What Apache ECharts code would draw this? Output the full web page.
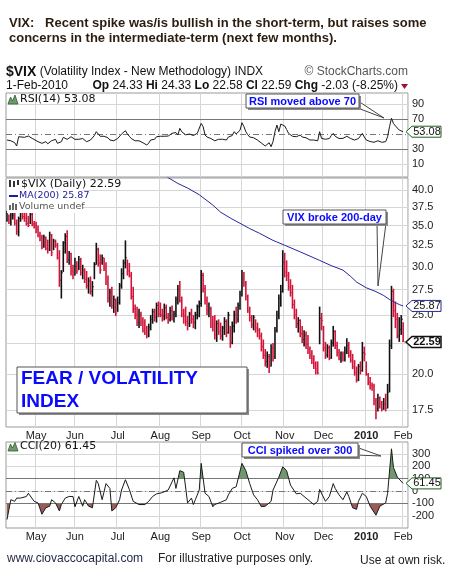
<!DOCTYPE html>
<html>
<head>
<meta charset="utf-8">
<script src="https://cdn.jsdelivr.net/npm/echarts@6/dist/echarts.min.js"></script>
<style>
  html, body { margin: 0; padding: 0; background: #fff; }
  #chart { width: 452px; height: 580px; }
</style>
</head>
<body>
<div id="chart"></div>
<script>
// trading calendar, Apr 9 2009 .. Feb 3 2010 (last two days left empty as right margin)
const holidays = ['2009-04-10', '2009-05-25', '2009-07-03', '2009-09-07',
  '2009-11-26', '2009-12-25', '2010-01-01', '2010-01-18'];
const monthNames = ['Jan', 'Feb', 'Mar', 'Apr', 'May', 'Jun', 'Jul', 'Aug', 'Sep', 'Oct', 'Nov', 'Dec'];

// daily $VIX bars
const highs = [
  37.0, 36.5, 36.8, 37.2, 37.0, 35.8, 36.2, 37.2, 37.5, 37.0,
  36.8, 36.3, 36.9, 36.7, 35.6, 35.5, 35.0, 34.2, 33.8, 33.8,
  33.6, 33.2, 34.2, 33.9, 33.3, 33.2, 32.8, 31.9, 29.6, 33.0,
  34.0, 34.4, 31.8, 31.6, 30.2, 31.0, 30.6, 31.2, 31.0, 30.2,
  29.8, 29.5, 28.8, 28.9, 28.4, 30.5, 32.8, 32.2, 31.4, 31.4,
  31.0, 30.5, 29.0, 27.6, 27.8, 26.9, 26.6, 26.8, 28.2, 29.8,
  30.8, 33.1, 30.8, 30.4, 29.4, 27.8, 26.0, 25.8, 25.6, 25.3,
  24.8, 24.6, 24.0, 24.2, 25.0, 25.6, 25.6, 26.2, 26.3, 26.2,
  25.6, 26.1, 26.0, 25.2, 25.8, 25.9, 25.4, 26.8, 28.0, 28.4,
  26.8, 25.6, 25.8, 24.9, 25.3, 25.6, 25.0, 25.3, 26.0, 26.4,
  29.6, 29.3, 28.0, 26.8, 26.2, 25.8, 24.9, 25.0, 24.5, 24.6,
  24.3, 24.0, 24.8, 24.6, 25.3, 24.0, 24.4, 25.4, 25.8, 26.2,
  27.4, 29.6, 29.4, 28.4, 27.0, 25.8, 25.0, 25.0, 24.6, 24.3,
  23.8, 23.4, 22.8, 22.0, 21.8, 21.6, 22.4, 22.5, 23.9, 25.4,
  27.0, 28.0, 31.9, 31.6, 30.7, 29.4, 28.6, 28.0, 26.5, 25.6,
  24.8, 24.6, 24.0, 23.6, 23.5, 23.2, 22.2, 21.9, 21.5, 21.0,
  21.0, 25.8, 25.2, 24.0, 22.6, 22.4, 22.3, 22.8, 24.0, 23.6,
  22.6, 22.0, 21.8, 21.8, 22.2, 22.9, 22.6, 21.9, 21.6, 21.1,
  20.6, 20.8, 21.0, 22.6, 22.2, 21.0, 20.1, 19.8, 19.4, 19.3,
  18.3, 18.6, 18.4, 18.1, 18.3, 18.6, 19.3, 22.8, 27.9, 27.6,
  26.3, 25.2, 24.8, 25.0, 24.33
];
const lows = [
  35.5, 35.2, 35.0, 35.8, 35.0, 33.8, 33.6, 35.5, 35.8, 35.5,
  35.0, 34.8, 35.2, 34.9, 34.6, 34.0, 33.5, 33.0, 32.0, 32.2,
  31.9, 31.5, 31.8, 31.2, 31.9, 32.2, 30.8, 27.8, 26.6, 29.4,
  31.5, 30.4, 30.2, 29.0, 28.6, 29.0, 29.2, 29.6, 29.0, 28.6,
  28.2, 27.6, 27.1, 27.0, 26.8, 28.6, 30.2, 30.0, 29.2, 30.2,
  29.5, 28.0, 26.2, 25.8, 25.6, 25.2, 24.9, 25.3, 26.0, 27.6,
  28.6, 29.8, 29.0, 28.8, 26.5, 25.2, 24.6, 24.0, 23.8, 24.0,
  23.4, 23.2, 22.9, 23.0, 23.6, 24.2, 24.4, 24.3, 24.8, 24.8,
  24.4, 24.5, 24.6, 24.2, 24.4, 24.5, 24.3, 24.8, 26.0, 26.2,
  24.8, 24.2, 24.0, 23.6, 23.9, 24.2, 23.8, 23.7, 24.6, 24.8,
  25.8, 27.2, 26.0, 25.0, 24.8, 23.8, 23.5, 22.8, 22.6, 23.2,
  22.8, 22.7, 23.2, 23.0, 23.3, 22.1, 22.4, 23.4, 24.2, 24.3,
  25.5, 26.8, 27.8, 26.4, 25.2, 24.4, 23.8, 23.6, 23.4, 23.0,
  22.8, 21.8, 21.2, 20.6, 20.5, 20.1, 20.6, 21.0, 21.2, 23.4,
  24.6, 25.8, 27.2, 28.8, 28.4, 27.4, 26.8, 25.6, 24.6, 23.8,
  23.4, 23.0, 22.5, 22.2, 22.0, 21.6, 21.2, 20.8, 20.4, 20.0,
  20.0, 22.4, 23.6, 21.8, 21.2, 21.3, 21.1, 21.2, 22.2, 22.0,
  21.4, 21.1, 20.9, 21.0, 21.0, 21.6, 21.3, 20.9, 20.4, 19.9,
  19.4, 19.5, 20.0, 20.2, 21.0, 19.9, 19.2, 18.9, 18.8, 17.8,
  16.9, 17.4, 17.6, 17.4, 17.5, 17.4, 17.6, 18.7, 22.0, 24.8,
  23.8, 22.9, 22.6, 23.2, 22.58
];
const closes = [
  35.8, 35.4, 36.3, 36.4, 35.3, 34.2, 35.9, 36.8, 36.2, 36.0,
  35.3, 35.0, 36.5, 35.2, 35.0, 34.5, 33.7, 33.4, 32.3, 33.5,
  32.1, 32.0, 33.8, 31.6, 33.0, 32.5, 31.0, 28.5, 29.3, 32.8,
  33.6, 30.8, 31.5, 29.5, 29.0, 30.0, 29.5, 30.8, 29.3, 29.6,
  28.6, 27.9, 28.4, 27.3, 27.8, 30.2, 32.0, 30.4, 29.6, 31.0,
  29.8, 28.3, 26.6, 27.2, 25.9, 26.5, 25.2, 26.2, 27.9, 29.2,
  30.4, 31.0, 29.5, 29.0, 26.8, 25.6, 25.0, 24.3, 25.0, 24.3,
  23.6, 23.4, 23.1, 23.9, 24.6, 25.3, 24.8, 25.9, 25.1, 25.0,
  24.9, 25.7, 24.8, 24.6, 25.4, 24.9, 25.1, 26.5, 27.6, 26.4,
  25.1, 24.9, 24.4, 24.2, 25.1, 24.6, 24.3, 25.0, 25.8, 26.1,
  29.0, 27.6, 26.4, 25.4, 25.6, 24.2, 24.0, 23.2, 24.2, 23.5,
  23.1, 23.8, 24.4, 23.4, 25.0, 22.5, 24.0, 25.0, 24.6, 25.9,
  27.0, 28.7, 28.2, 26.8, 25.4, 24.8, 24.1, 24.8, 23.8, 23.6,
  23.1, 22.2, 21.5, 21.0, 21.4, 20.6, 22.1, 21.4, 23.6, 25.0,
  26.6, 27.3, 30.5, 29.4, 29.0, 27.8, 27.2, 26.0, 25.0, 24.2,
  24.5, 23.3, 22.8, 23.2, 22.4, 22.0, 21.5, 21.2, 20.8, 20.4,
  20.1, 24.7, 24.5, 22.1, 21.5, 22.1, 21.3, 22.5, 23.5, 22.3,
  21.7, 21.3, 21.6, 21.2, 21.9, 22.3, 21.5, 21.1, 20.6, 20.1,
  19.6, 20.6, 20.3, 21.7, 21.6, 20.0, 19.4, 19.2, 19.1, 18.1,
  17.6, 18.3, 17.9, 17.6, 17.9, 17.6, 18.7, 22.3, 27.3, 25.4,
  24.6, 23.1, 23.7, 24.6, 22.59
];

// MA(200), [day index, value]
const maPoints = [
  [80, 42.6], [83, 41.9], [88, 41.0], [93, 40.3], [99, 39.3], [106, 37.8], [110, 36.8],
  [115, 36.0], [120, 35.3], [125, 34.6], [130, 34.0], [137, 33.1], [144, 32.4], [151, 31.7],
  [156, 31.2], [161, 30.7], [167, 30.1], [173, 29.6], [177, 28.9], [180, 28.3], [185, 27.7],
  [190, 27.3], [194, 26.9], [197, 26.5], [200, 26.2], [202, 26.0], [204, 25.87]
];

// RSI(14), [day index, value]
const rsiPoints = [
  [0, 42], [1, 39.8], [2, 41], [3, 40], [4, 38.4], [5, 34], [6, 46.4], [7, 45], [9, 45.6], [10, 44],
  [11, 47.3], [13, 44.2], [14, 42], [16, 39.8], [18, 37.6], [19, 40], [20, 39.8], [21, 37], [22, 38.4],
  [23, 41.1], [24, 40], [25, 42.9], [26, 37.6], [27, 40], [28, 39.8], [29, 45.6], [30, 44], [31, 42.9],
  [32, 44], [33, 46.4], [34, 44], [35, 42.9], [36, 44.2], [37, 43], [38, 45.6], [39, 44], [40, 42.9],
  [41, 39.8], [42, 41], [43, 42], [44, 41], [45, 48], [46, 53.1], [47, 50], [48, 47], [49, 45.6],
  [50, 47], [51, 49.6], [52, 45], [53, 42], [54, 39.8], [55, 41], [56, 42], [57, 44], [58, 46],
  [59, 50], [60, 52], [61, 54.4], [62, 50], [63, 47], [64, 44], [65, 42], [66, 41], [67, 40], [68, 41],
  [69, 39.5], [70, 38.4], [71, 37], [72, 35.3], [73, 38], [74, 42], [75, 44], [76, 43], [77, 46.4],
  [78, 45], [79, 47], [80, 48.7], [81, 47], [82, 46], [83, 47.3], [84, 48], [85, 50.9], [86, 49],
  [87, 52], [88, 48.7], [89, 57.6], [90, 53], [91, 50.9], [92, 49], [93, 48], [94, 50], [95, 48.7],
  [96, 48], [97, 49], [98, 50.9], [99, 52], [100, 64.2], [101, 59.8], [102, 48.7], [103, 46],
  [104, 47], [105, 44], [106, 43], [107, 41], [108, 42], [109, 43], [110, 41], [111, 43], [112, 44],
  [113, 42], [114, 46], [115, 44], [116, 48], [117, 53.1], [118, 50], [119, 50.9], [120, 55],
  [121, 65.1], [122, 60], [123, 53.1], [124, 49], [125, 46], [126, 44], [127, 45], [128, 42.9],
  [129, 42], [130, 40], [131, 38], [132, 36], [133, 34], [134, 36], [135, 38.4], [136, 33.1], [137, 40],
  [138, 53.1], [139, 62], [140, 53.1], [141, 63.3], [142, 64], [143, 60.7], [144, 56], [145, 50.9],
  [146, 49], [147, 47], [148, 46], [149, 46.4], [150, 48], [151, 48.7], [152, 46], [153, 47], [154, 45],
  [155, 44], [156, 42], [157, 43], [158, 42], [159, 42.9], [160, 41], [161, 53.1], [162, 44.2],
  [163, 42], [164, 43], [165, 45], [166, 44], [167, 48], [168, 50.9], [169, 47], [170, 45], [171, 44],
  [172, 46], [173, 44.2], [174, 46], [175, 47], [176, 45], [177, 44], [178, 43], [179, 42], [180, 41],
  [181, 44], [182, 45], [183, 50.9], [184, 46], [185, 42], [186, 41], [187, 40], [188, 41], [189, 39],
  [190, 39.8], [191, 41], [192, 40], [193, 39], [194, 41], [195, 39.8], [196, 46.4], [197, 60],
  [198, 71], [199, 64], [200, 62], [201, 58], [202, 55.3], [203, 57.6], [204, 53.08]
];

// CCI(20), [day index, value]
const cciPoints = [
  [0, -230], [1, -150], [2, -70], [4, -83], [5, -57], [7, -57], [10, -44], [11, -18], [12, -18],
  [14, -83], [16, -96], [18, -187], [20, -135], [22, -122], [23, -70], [25, -96], [27, -161],
  [28, -109], [30, -57], [32, -44], [34, -44], [35, -127], [37, -44], [39, -122], [40, -70],
  [42, -122], [44, -135], [46, 86], [47, 60], [49, -70], [51, 60], [53, 21], [54, -161], [56, -135],
  [58, -70], [59, 8], [61, 91], [63, 13], [65, -83], [68, -109], [71, -109], [73, -83], [75, -44],
  [77, -23], [80, -13], [83, 8], [84, -5], [86, 106], [87, 21], [89, 164], [91, 151], [93, -96],
  [95, -57], [96, -109], [97, -70], [99, 8], [100, 223], [101, 223], [102, -18], [104, -44],
  [106, -127], [107, -109], [110, -91], [113, -70], [114, -31], [116, 21], [118, 34], [119, 21],
  [121, 223], [123, 164], [125, 60], [127, -31], [129, -70], [131, -127], [133, -122], [136, -83],
  [137, 8], [140, 112], [142, 195], [144, 164], [146, 47], [149, -23], [151, -18], [154, -57],
  [156, -83], [158, -109], [160, -83], [161, 13], [162, 29], [164, -83], [166, -44], [168, 60],
  [169, 21], [171, -31], [173, -70], [175, -8], [176, -44], [178, -135], [180, -148], [181, -83],
  [183, -18], [185, -44], [187, -122], [190, -195], [192, -122], [193, -135], [195, -96], [196, -18],
  [198, 340], [199, 190], [201, 112], [204, 61.45]
];

const priceTicks = [17.5, 20, 22.5, 25, 27.5, 30, 32.5, 35, 37.5, 40];
const rsiTicks = [10, 30, 70, 90];
const cciTicks = [-200, -100, 0, 100, 200, 300];

function tradingDays(from, to) {
  const out = [];
  const d = new Date(from + 'T00:00:00Z');
  const end = new Date(to + 'T00:00:00Z');
  while (d <= end) {
    const s = d.toISOString().slice(0, 10);
    const wd = d.getUTCDay();
    if (wd !== 0 && wd !== 6 && holidays.indexOf(s) < 0) out.push(s);
    d.setUTCDate(d.getUTCDate() + 1);
  }
  return out;
}
const dates = tradingDays('2009-04-09', '2010-02-03');

const SANS = '"Liberation Sans", Arial, sans-serif';
const VERD = '"DejaVu Sans", Verdana, sans-serif';
const RED = '#d2143a';

function isMonthStart(i) {
  return i > 0 && dates[i].slice(5, 7) !== dates[i - 1].slice(5, 7);
}
function monthLabel(v) {
  const m = +v.slice(5, 7);
  return m === 1 ? '{y|' + v.slice(0, 4) + '}' : monthNames[m - 1];
}

function xAxisFor(grid, labels) {
  return {
    type: 'category', gridIndex: grid, data: dates, boundaryGap: true,
    axisLine: { show: false }, axisTick: { show: false },
    axisLabel: {
      show: labels, interval: isMonthStart, formatter: monthLabel, margin: 3,
      color: '#222', fontFamily: SANS, fontSize: 11,
      rich: { y: { fontWeight: 'bold', fontFamily: SANS, fontSize: 11, color: '#222' } }
    },
    splitLine: { show: true, interval: isMonthStart, lineStyle: { color: '#d6d6d6' } }
  };
}
function yAxisFor(grid, type, min, max, ticks, fmt) {
  return {
    type: type, gridIndex: grid, position: 'right', min: min, max: max,
    axisLine: { show: false },
    axisTick: { show: false, customValues: ticks },
    axisLabel: { customValues: ticks, formatter: fmt, margin: 4, color: '#222', fontFamily: SANS, fontSize: 11 },
    splitLine: { show: true, lineStyle: { color: '#d6d6d6' } }
  };
}

function renderBar(params, api) {
  const i = api.value(0);
  const top = api.coord([i, api.value(1)]);
  const bot = api.coord([i, api.value(2)]);
  const cl = api.coord([i, api.value(3)]);
  const up = i === 0 || closes[i] >= closes[i - 1];
  const fill = up ? '#111' : RED;
  return {
    type: 'group',
    children: [
      { type: 'rect', shape: { x: top[0] - 0.8, y: top[1], width: 1.6, height: Math.max(1, bot[1] - top[1]) }, style: { fill: fill } },
      { type: 'rect', shape: { x: top[0] + 0.8, y: cl[1] - 0.5, width: 0.8, height: 1 }, style: { fill: fill } }
    ]
  };
}

const grids = [
  { left: 6, top: 93, width: 402, height: 84 },
  { left: 6, top: 178, width: 402, height: 249 },
  { left: 6, top: 442, width: 402, height: 86 }
].map(g => Object.assign(g, { show: true, borderColor: '#9a9a9a', borderWidth: 1, backgroundColor: '#fff' }));

const refLine = (v, dashed) => ({
  yAxis: v, lineStyle: { color: '#777', width: 1, type: dashed ? [6, 3, 1, 3] : 'solid' }
});

const chart = echarts.init(document.getElementById('chart'), null, { renderer: 'canvas' });
chart.setOption({
  animation: false,
  backgroundColor: '#fff',
  grid: grids,
  xAxis: [xAxisFor(0, false), xAxisFor(1, true), xAxisFor(2, true)],
  yAxis: [
    yAxisFor(0, 'value', -7.3, 104.7, rsiTicks, v => String(v)),
    yAxisFor(1, 'log', 16.41, 41.85, priceTicks, v => Number(v).toFixed(1)),
    yAxisFor(2, 'value', -298, 395, cciTicks, v => String(v))
  ],
  visualMap: {
    show: false, type: 'piecewise', seriesIndex: 3, dimension: 1,
    pieces: [
      { gt: 100, color: '#6f986f' },
      { gte: -100, lte: 100, color: 'rgba(255,255,255,0)' },
      { lt: -100, color: '#9c5b59' }
    ]
  },
  series: [
    {
      type: 'line', xAxisIndex: 0, yAxisIndex: 0, data: rsiPoints, symbol: 'none',
      lineStyle: { color: '#1a1a1a', width: 1 }, z: 5,
      markLine: { silent: true, symbol: 'none', label: { show: false }, data: [refLine(70), refLine(30), refLine(50, true)] }
    },
    {
      type: 'custom', xAxisIndex: 1, yAxisIndex: 1, clip: true,
      data: highs.map((h, i) => [i, h, lows[i], closes[i]]),
      encode: { x: 0, y: [1, 2, 3] },
      renderItem: renderBar
    },
    {
      type: 'line', xAxisIndex: 1, yAxisIndex: 1, data: maPoints, symbol: 'none',
      lineStyle: { color: '#2626a0', width: 1 }, z: 4
    },
    {
      type: 'line', xAxisIndex: 2, yAxisIndex: 2, data: cciPoints, symbol: 'none',
      lineStyle: { width: 0 }, areaStyle: { origin: 0, opacity: 1 }, z: 2
    },
    {
      type: 'line', xAxisIndex: 2, yAxisIndex: 2, data: cciPoints, symbol: 'none',
      lineStyle: { color: '#1a1a1a', width: 1 }, z: 5,
      markLine: { silent: true, symbol: 'none', label: { show: false }, data: [refLine(100), refLine(-100), refLine(0, true)] }
    }
  ]
});

// decorations: titles, legends, callouts and value tags
function txt(x, y, text, font, fill, extra) {
  return { type: 'text', x: x, y: y, z: 110, style: Object.assign({ text: text, font: font, fill: fill, verticalAlign: 'middle' }, extra || {}) };
}
function callout(x, y, w, h, pointer, text, font, lines) {
  const out = [];
  if (pointer) {
    out.push({ type: 'polygon', z: 104, shape: { points: pointer }, style: { fill: '#fff', stroke: '#444', lineWidth: 1 } });
  }
  out.push(
    { type: 'rect', z: 105, shape: { x: x + 2, y: y + 2, width: w, height: h }, style: { fill: '#8a8a8a' } },
    { type: 'rect', z: 106, shape: { x: x, y: y, width: w, height: h }, style: { fill: '#fff', stroke: '#555', lineWidth: 1 } }
  );
  (lines || [[x + w / 2, y + h / 2 + 0.5, text, 'center']]).forEach(l => {
    out.push(txt(l[0], l[1], l[2], font, '#0a0aff', { align: l[3] }));
  });
  return out;
}
function tag(y, text, stroke, bold) {
  return [
    { type: 'polygon', z: 108, shape: { points: [[406, y], [412, y - 5.5], [441, y - 5.5], [441, y + 5.5], [412, y + 5.5]] },
      style: { fill: '#fff', stroke: stroke, lineWidth: bold ? 1.5 : 1 } },
    txt(427, y, text, (bold ? 'bold ' : '') + '11px ' + SANS, '#111', { align: 'center' })
  ];
}

const lastMa = maPoints[maPoints.length - 1][1];
const lastClose = closes[closes.length - 1];
const lastRsi = rsiPoints[rsiPoints.length - 1][1];
const lastCci = cciPoints[cciPoints.length - 1][1];

const deco = [
  txt(9, 23, 'VIX:   Recent spike was/is bullish in the short-term, but raises some', 'bold 13px ' + SANS, '#2b1d0e'),
  txt(9, 38, 'concerns in the intermediate-term (next few months).', 'bold 13px ' + SANS, '#2b1d0e'),
  txt(6, 72, '{b|$VIX} (Volatility Index - New Methodology) INDX', '12px ' + SANS, '#111',
    { rich: { b: { fontWeight: 'bold', fontSize: 14, fontFamily: SANS, fill: '#111' } } }),
  txt(408, 72, '\u00a9 StockCharts.com', '12px ' + SANS, '#555', { align: 'right' }),
  txt(6, 86, '1-Feb-2010', '12px ' + SANS, '#111'),
  txt(398, 86, '{b|Op} 24.33 {b|Hi} 24.33 {b|Lo} 22.58 {b|Cl} 22.59 {b|Chg} -2.03 (-8.25%)', '12px ' + SANS, '#111',
    { align: 'right', rich: { b: { fontWeight: 'bold', fontSize: 12, fontFamily: SANS, fill: '#111' } } }),
  { type: 'polygon', z: 110, shape: { points: [[401, 84], [408, 84], [404.5, 89]] }, style: { fill: '#a01030' } },

  // panel legends
  { type: 'polygon', z: 110, shape: { points: [[8, 104], [10.5, 97], [12.5, 101], [15, 95], [18, 104]] }, style: { fill: '#6f986f', stroke: '#2f5f2f', lineWidth: 0.8 } },
  txt(20, 99.5, 'RSI(14) ' + lastRsi.toFixed(2), '11px ' + VERD, '#111'),
  { type: 'rect', z: 109, shape: { x: 7, y: 179, width: 118, height: 11 }, style: { fill: '#fff' } },
  { type: 'rect', z: 109, shape: { x: 7, y: 190, width: 76, height: 23 }, style: { fill: '#fff' } },
  { type: 'rect', z: 110, shape: { x: 9, y: 180, width: 2, height: 7 }, style: { fill: '#333' } },
  { type: 'rect', z: 110, shape: { x: 13, y: 181, width: 2, height: 6 }, style: { fill: '#333' } },
  { type: 'rect', z: 110, shape: { x: 17, y: 180, width: 2, height: 5 }, style: { fill: '#333' } },
  txt(21, 184, '$VIX (Daily) ' + lastClose.toFixed(2), '11px ' + VERD, '#111'),
  { type: 'rect', z: 110, shape: { x: 9, y: 195, width: 9, height: 2 }, style: { fill: '#1c1c9c' } },
  txt(19, 196, 'MA(200) ' + lastMa.toFixed(2), '9.5px ' + VERD, '#1c1c9c'),
  { type: 'rect', z: 110, shape: { x: 9, y: 205, width: 2, height: 5 }, style: { fill: '#666' } },
  { type: 'rect', z: 110, shape: { x: 12, y: 203, width: 2, height: 7 }, style: { fill: '#666' } },
  { type: 'rect', z: 110, shape: { x: 15, y: 204, width: 2, height: 6 }, style: { fill: '#666' } },
  txt(19, 207, 'Volume undef', '9.5px ' + VERD, '#555'),
  { type: 'polygon', z: 110, shape: { points: [[8, 451], [10.5, 444], [12.5, 448], [15, 442.5], [18, 451]] }, style: { fill: '#6f986f', stroke: '#2f5f2f', lineWidth: 0.8 } },
  txt(20, 446.5, 'CCI(20) ' + lastCci.toFixed(2), '11px ' + VERD, '#111'),

  // footer
  txt(7, 559, 'www.ciovaccocapital.com', '12px ' + SANS, '#1f2742'),
  txt(158, 559, 'For illustrative purposes only.', '12px ' + SANS, '#222'),
  txt(360, 561, 'Use at own risk.', '12px ' + SANS, '#222')
]
  .concat(callout(246, 94, 113, 14, [[355, 99], [355, 107], [384, 118]], 'RSI moved above 70', 'bold 11px ' + SANS))
  .concat(callout(283, 210, 103, 14, [[377, 223], [386, 223], [378, 286]], 'VIX broke 200-day', 'bold 11px ' + SANS))
  .concat(callout(242, 443, 116, 14, [[356, 447], [356, 455], [381, 456]], 'CCI spiked over 300', 'bold 11px ' + SANS))
  .concat(callout(17, 367, 230, 46, null, '', 'bold 19px ' + SANS,
    [[21, 379, 'FEAR / VOLATILITY', 'left'], [21, 402, 'INDEX', 'left']]))
  .concat(tag(chart.convertToPixel({ yAxisIndex: 0 }, lastRsi), lastRsi.toFixed(2), '#1f5f1f', false))
  .concat(tag(chart.convertToPixel({ yAxisIndex: 1 }, lastMa), lastMa.toFixed(2), '#2626a0', false))
  .concat(tag(chart.convertToPixel({ yAxisIndex: 1 }, lastClose), lastClose.toFixed(2), '#111', true))
  .concat(tag(chart.convertToPixel({ yAxisIndex: 2 }, lastCci), lastCci.toFixed(2), '#1f5f1f', false));

chart.setOption({ graphic: { elements: deco } });
</script>
</body>
</html>
